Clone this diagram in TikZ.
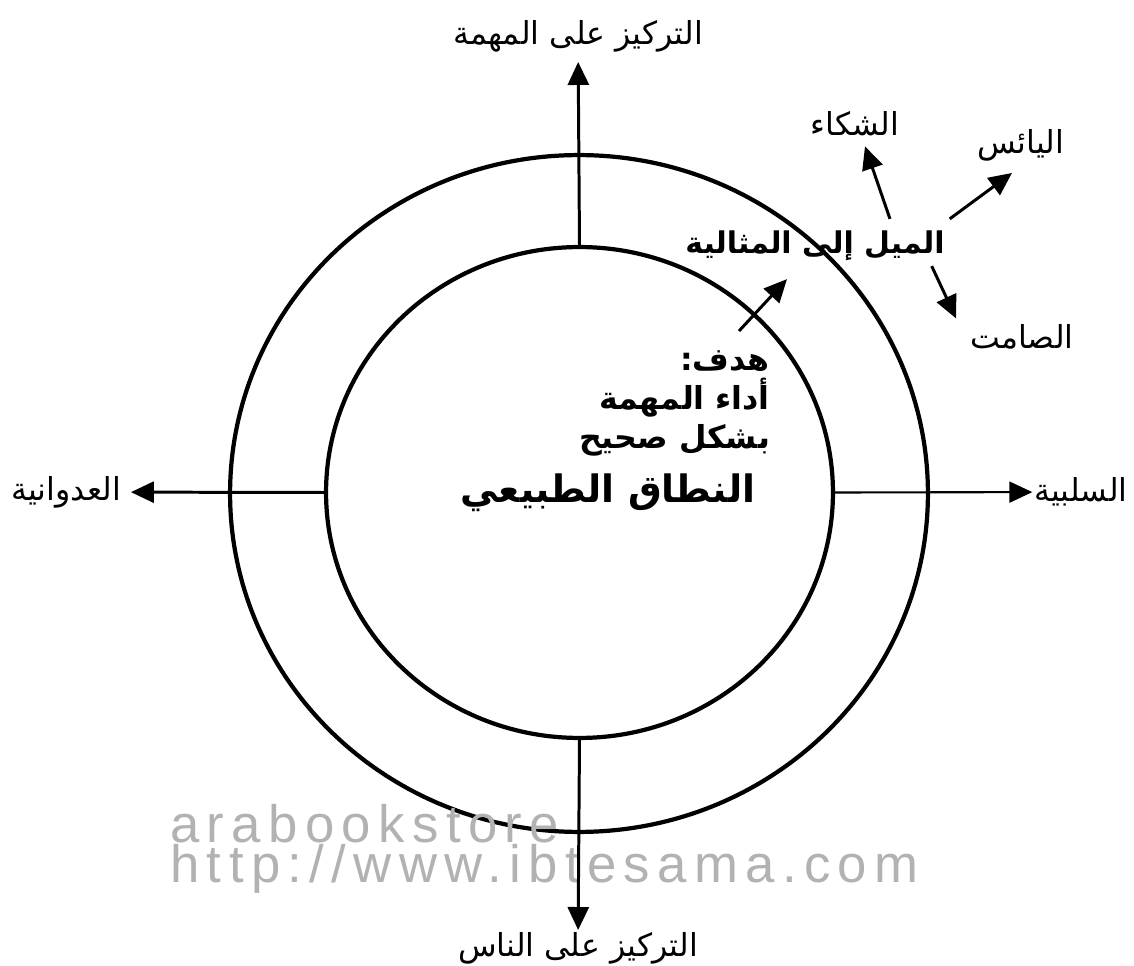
\documentclass[tikz,border=0pt]{standalone}
\usepackage{fontspec}
\setmainfont{DejaVu Sans}
\newfontfamily\arabicfont[Script=Arabic]{DejaVu Sans}
\newfontfamily\wmfont[LetterSpace=14]{Liberation Sans}
\TeXXeTstate=1
\usetikzlibrary{arrows.meta,positioning,shapes.geometric}
\tikzset{
	ring/.style={draw, ellipse, line width=2.4pt, inner sep=0pt},
	axis/.style={line width=1.7pt, -{Triangle[length=0.46cm,width=0.42cm]}},
	lbl/.style={font=\arabicfont\fontsize{18}{22}\selectfont, inner sep=1pt},
	blbl/.style={font=\arabicfont\bfseries\fontsize{18}{22.2}\selectfont, inner sep=1pt},
	wm/.style={font=\wmfont\fontsize{30}{32}\selectfont, text=black!30, inner sep=0pt}
}
\begin{document}
\begin{tikzpicture}[x=0.02cm, y=-0.02cm]
		\useasboundingbox (0,0) rectangle (1134,966);
		% the two rings
		\node[ring, minimum width=13.96cm, minimum height=13.54cm] (outer) at (579,493.5) {};
		\node[ring, minimum width=10.14cm, minimum height=9.82cm] (inner) at (579.5,492.5) {};
		% labels
		\node[lbl] (task) at (578,36) {\beginR التركيز على المهمة\endR};
		\node[lbl] (people) at (578,948) {\beginR التركيز على الناس\endR};
		\node[lbl] (hostile) at (66,492) {\beginR العدوانية\endR};
		\node[lbl] (passive) at (1081,492) {\beginR السلبية\endR};
		\node[blbl, font=\arabicfont\bfseries\fontsize{17}{20}\selectfont] (ideal) at (815,246) {\beginR الميل إلى المثالية\endR};
		\node[lbl] (complain) at (855,124) {\beginR الشكاء\endR};
		\node[lbl] (despair) at (1021,145) {\beginR اليائس\endR};
		\node[lbl] (silent) at (1022,337) {\beginR الصامت\endR};
		\node[blbl, align=right, anchor=north east] (goal) at (772,349) {\beginR هدف:\endR\\\beginR أداء المهمة\endR\\\beginR بشكل صحيح\endR};
		\node[blbl, font=\arabicfont\bfseries\fontsize{21.5}{24}\selectfont] (range) at (608,493) {\beginR النطاق الطبيعي\endR};
		% watermark
		\node[wm, anchor=base west] (wmstore) at (170,842) {arabookstore};
		\node[wm, anchor=base west] (wmsite) at (170,882) {http://www.ibtesama.com};
		% axes
		\draw[axis, shorten >=0.16cm] (inner.north) -- (task);
		\draw[axis] (inner.south) -- (people);
		\draw[axis, shorten >=0.16cm] (inner.west) -- (hostile);
		\draw[axis, line width=1.2pt] (inner.east) -- (passive);
		% tendencies
		\draw[axis] ([shift={(1.5cm,0.2cm)}]ideal.north) -- ([shift={(0.2cm,-0.16cm)}]complain.south);
		\draw[axis] ([shift={(0.06cm,0.2cm)}]ideal.north east) -- ([shift={(-0.18cm,-0.2cm)}]despair.south);
		\draw[axis] ([shift={(-0.3cm,-0.06cm)}]ideal.south east) -- ([shift={(-0.24cm,0.08cm)}]silent.north west);
		\draw[axis] ([shift={(-0.66cm,0.36cm)}]goal.north east) -- ([shift={(-0.56cm,-0.32cm)}]ideal.south);
\end{tikzpicture}
\end{document}
